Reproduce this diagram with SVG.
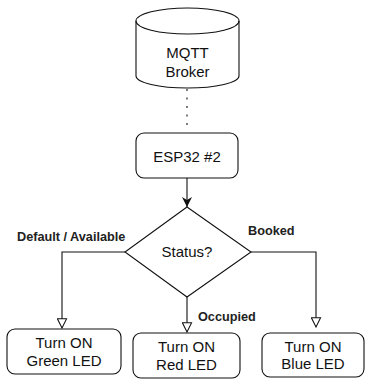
<svg xmlns="http://www.w3.org/2000/svg" width="365" height="380" viewBox="0 0 365 380">
<defs>
<style>
.shape{fill:#fff;stroke:#111;stroke-width:1.1}
.conn{fill:none;stroke:#111;stroke-width:1.1}
.t{font-family:"Liberation Sans",Arial,sans-serif;font-size:15px;fill:#111;text-anchor:middle}
.lbl{font-family:"Liberation Sans",Arial,sans-serif;font-size:12.7px;font-weight:bold;fill:#222}
</style>
<marker id="filled" viewBox="0 0 10 10" refX="10" refY="5" markerWidth="10" markerHeight="10" markerUnits="userSpaceOnUse" orient="auto">
<path d="M0,0 L10,5 L0,10 L3,5 Z" fill="#111"/>
</marker>
<marker id="hollow" viewBox="0 0 12 12" refX="11" refY="6" markerWidth="11" markerHeight="11" markerUnits="userSpaceOnUse" orient="auto">
<path d="M1,1 L11,6 L1,11 Z" fill="#fff" stroke="#111" stroke-width="1.1"/>
</marker>
</defs>
<rect width="365" height="380" fill="#fff"/>
<g id="connectors">
<line class="conn" x1="187" y1="89" x2="187" y2="131" stroke-dasharray="2 6.5" stroke-width="1.6"/>
<line class="conn" x1="187" y1="178" x2="187" y2="207" marker-end="url(#filled)"/>
<polyline class="conn" points="125,252 62,252 62,328" marker-end="url(#hollow)"/>
<line class="conn" x1="187" y1="297" x2="187" y2="332" marker-end="url(#hollow)"/>
<polyline class="conn" points="251,252 316,252 316,327" marker-end="url(#hollow)"/>
<text class="lbl" x="17" y="241">Default / Available</text>
<text class="lbl" x="248" y="235">Booked</text>
<text class="lbl" x="198" y="321">Occupied</text>
</g>
<g id="broker">
<path class="shape" d="M136,21 A51.5,13 0 0 1 239,21 L239,76 A51.5,12 0 0 1 136,76 Z"/>
<path class="conn" d="M136,21 A51.5,13 0 0 0 239,21"/>
<text class="t" x="187.5" y="58">MQTT</text>
<text class="t" x="187.5" y="77">Broker</text>
</g>
<g id="esp32">
<rect class="shape" x="136" y="133" width="102" height="45" rx="8"/>
<text class="t" x="187" y="162">ESP32 #2</text>
</g>
<g id="status">
<polygon class="shape" points="187,207 251,252 187,297 125,252"/>
<text class="t" x="187" y="257">Status?</text>
</g>
<g id="green">
<rect class="shape" x="7" y="329" width="114" height="45" rx="8"/>
<text class="t" x="64" y="348">Turn ON</text>
<text class="t" x="64" y="366">Green LED</text>
</g>
<g id="red">
<rect class="shape" x="133" y="333" width="107" height="45" rx="8"/>
<text class="t" x="186.5" y="352">Turn ON</text>
<text class="t" x="186.5" y="370">Red LED</text>
</g>
<g id="blue">
<rect class="shape" x="262" y="333" width="102" height="44" rx="8"/>
<text class="t" x="313" y="352">Turn ON</text>
<text class="t" x="313" y="369">Blue LED</text>
</g>
</svg>
